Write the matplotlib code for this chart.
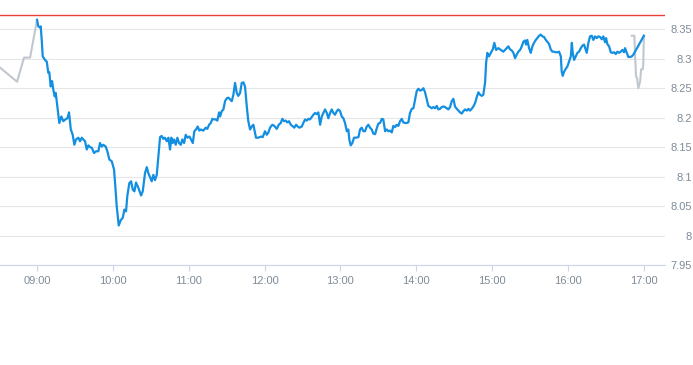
import matplotlib
matplotlib.use("Agg")
import matplotlib.pyplot as plt
from matplotlib.ticker import FixedLocator, FixedFormatter

plt.rcParams['font.family'] = ['Liberation Sans', 'DejaVu Sans']

# minutes after 09:00 and price for the regular session
t_main = [0, 1.0, 2.4, 2.9, 3.7, 4.5, 6.3, 7.7, 8.9, 9.7, 10.8, 11.9, 12.9, 14.0, 14.8, 16.1,
          17.6, 19.2, 20.8, 22.4, 24.0, 25.3, 26.7, 28.2, 29.5, 30.8, 32.7, 34.0, 35.4, 36.6,
          38.0, 39.3, 40.6, 41.9, 43.3, 45.1, 46.7, 48.5, 49.8, 51.2, 52.4, 54.3, 55.6, 57.2,
          59.1, 60.9, 61.9, 63.0, 64.6, 66.2, 67.8, 69.1, 70.4, 71.4, 73.0, 74.4, 75.7, 77.0,
          78.3, 80.1, 82.3, 83.6, 85.4, 86.8, 88.0, 89.4, 90.7, 92.0, 93.3, 94.7, 96.0, 97.3,
          98.6, 99.9, 101.2, 102.6, 103.9, 105.2, 106.2, 107.3, 108.4, 109.7, 111.0, 112.3,
          113.7, 114.9, 116.3, 117.6, 118.9, 120.5, 121.8, 123.2, 124.4, 125.8, 127.1, 128.4,
          129.7, 131.5, 133.4, 134.7, 136.1, 137.4, 138.7, 140.0, 141.4, 142.6, 144.0, 144.8,
          146.1, 147.4, 148.7, 150.1, 151.3, 152.7, 154.0, 155.3, 156.6, 158.0, 159.2, 160.6,
          161.9, 163.2, 164.5, 165.9, 167.1, 168.5, 169.8, 171.1, 173.2, 175.0, 177.2, 178.5,
          180.3, 181.7, 183.0, 184.3, 186.1, 187.7, 189.6, 191.2, 192.8, 194.0, 195.4, 196.7,
          198.0, 199.3, 200.7, 201.9, 203.5, 204.9, 206.2, 207.5, 209.4, 210.6, 212.0, 213.3,
          214.6, 215.9, 217.3, 218.6, 219.9, 221.2, 222.5, 223.9, 225.2, 226.5, 227.8, 229.2,
          230.4, 231.8, 233.1, 234.4, 235.7, 237.1, 238.3, 239.7, 241.0, 242.3, 243.6, 245.0,
          246.2, 247.0, 248.1, 249.4, 250.7, 252.3, 254.2, 255.5, 256.8, 258.1, 259.4, 260.8,
          262.1, 263.4, 264.7, 266.0, 267.4, 268.7, 270.0, 271.3, 272.7, 273.9, 275.3, 276.6,
          277.9, 279.2, 280.6, 281.8, 283.2, 284.5, 285.8, 287.1, 288.5, 289.7, 291.1, 292.4,
          293.7, 295.0, 296.4, 297.7, 299.0, 300.3, 301.6, 303.0, 304.3, 305.6, 306.9, 308.3,
          309.5, 310.9, 312.2, 313.5, 314.8, 316.2, 317.4, 318.8, 320.1, 321.4, 322.7, 324.1,
          325.3, 326.7, 328.0, 329.3, 330.6, 332.0, 333.3, 334.6, 335.9, 337.2, 338.5, 339.9,
          341.2, 342.5, 343.8, 345.1, 346.5, 347.8, 349.1, 350.4, 351.8, 353.0, 354.4, 355.2,
          356.2, 357.5, 358.9, 360.5, 361.7, 363.1, 364.9, 366.2, 367.6, 368.8, 370.2, 371.5,
          372.8, 374.1, 375.5, 376.8, 378.1, 379.4, 380.7, 382.1, 383.4, 384.7, 386.0, 386.8,
          387.8, 389.2, 390.5, 391.8, 393.1, 394.5, 395.7, 397.1, 398.4, 399.7, 401.0, 402.4,
          403.6, 405.0, 406.3, 407.6, 408.9, 410.3, 411.6, 412.9, 414.3, 415.0, 415.8, 416.9,
          418.2, 419.5, 420.8, 422.2, 423.0, 423.7, 424.8, 426.1, 427.4, 428.7, 430.1, 431.3,
          432.7, 434.0, 434.8, 436.1, 437.4, 438.8, 440.0, 441.4, 442.7, 444.0, 445.3, 446.7,
          447.9, 449.3, 450.1, 451.1, 452.5, 453.8, 455.1, 456.4, 457.8, 459.0, 460.4, 461.7,
          463.0, 464.3, 465.1, 466.5, 467.7, 469.1, 470.4, 471.7, 480]
p_main = [8.366, 8.355, 8.353, 8.355, 8.332, 8.304, 8.298, 8.295, 8.276, 8.277, 8.253, 8.262,
          8.247, 8.236, 8.242, 8.219, 8.191, 8.202, 8.194, 8.197, 8.199, 8.209, 8.180, 8.171,
          8.154, 8.163, 8.166, 8.160, 8.166, 8.163, 8.160, 8.146, 8.153, 8.150, 8.149, 8.140,
          8.143, 8.143, 8.157, 8.151, 8.154, 8.151, 8.143, 8.129, 8.126, 8.112, 8.084, 8.050,
          8.017, 8.026, 8.030, 8.044, 8.041, 8.067, 8.089, 8.092, 8.078, 8.075, 8.090, 8.081,
          8.068, 8.075, 8.106, 8.116, 8.106, 8.099, 8.092, 8.103, 8.094, 8.103, 8.134, 8.167,
          8.169, 8.164, 8.166, 8.160, 8.166, 8.146, 8.166, 8.157, 8.163, 8.154, 8.166, 8.157,
          8.154, 8.163, 8.157, 8.171, 8.166, 8.168, 8.163, 8.157, 8.177, 8.180, 8.185, 8.178,
          8.180, 8.178, 8.183, 8.181, 8.188, 8.191, 8.198, 8.197, 8.197, 8.195, 8.209, 8.202,
          8.211, 8.214, 8.228, 8.233, 8.234, 8.231, 8.228, 8.239, 8.259, 8.242, 8.237, 8.242,
          8.259, 8.260, 8.253, 8.219, 8.194, 8.180, 8.185, 8.188, 8.166, 8.166, 8.168, 8.167,
          8.177, 8.171, 8.175, 8.183, 8.188, 8.186, 8.181, 8.188, 8.191, 8.198, 8.194, 8.195,
          8.192, 8.194, 8.188, 8.186, 8.183, 8.188, 8.185, 8.183, 8.185, 8.191, 8.197, 8.195,
          8.198, 8.197, 8.201, 8.205, 8.208, 8.206, 8.209, 8.188, 8.202, 8.208, 8.214, 8.208,
          8.199, 8.208, 8.214, 8.208, 8.205, 8.211, 8.214, 8.211, 8.202, 8.199, 8.191, 8.177,
          8.180, 8.163, 8.153, 8.157, 8.166, 8.166, 8.167, 8.180, 8.183, 8.177, 8.177, 8.185,
          8.188, 8.183, 8.180, 8.173, 8.172, 8.182, 8.190, 8.191, 8.198, 8.197, 8.177, 8.180,
          8.177, 8.178, 8.175, 8.186, 8.184, 8.188, 8.186, 8.194, 8.198, 8.192, 8.191, 8.191,
          8.192, 8.208, 8.215, 8.216, 8.231, 8.245, 8.249, 8.246, 8.247, 8.250, 8.243, 8.231,
          8.220, 8.218, 8.216, 8.218, 8.216, 8.220, 8.214, 8.215, 8.218, 8.219, 8.218, 8.216,
          8.214, 8.218, 8.228, 8.232, 8.219, 8.215, 8.212, 8.209, 8.207, 8.211, 8.214, 8.212,
          8.215, 8.212, 8.215, 8.219, 8.225, 8.235, 8.243, 8.239, 8.237, 8.239, 8.260, 8.293,
          8.310, 8.304, 8.310, 8.316, 8.327, 8.315, 8.318, 8.316, 8.314, 8.312, 8.315, 8.318,
          8.321, 8.316, 8.314, 8.310, 8.301, 8.307, 8.312, 8.315, 8.321, 8.329, 8.331, 8.324,
          8.332, 8.318, 8.310, 8.321, 8.327, 8.332, 8.335, 8.339, 8.341, 8.338, 8.337, 8.332,
          8.329, 8.325, 8.316, 8.312, 8.312, 8.311, 8.311, 8.312, 8.304, 8.278, 8.271, 8.278,
          8.283, 8.287, 8.295, 8.304, 8.327, 8.310, 8.298, 8.304, 8.310, 8.312, 8.318, 8.322,
          8.324, 8.315, 8.310, 8.327, 8.338, 8.339, 8.332, 8.338, 8.335, 8.338, 8.337, 8.333,
          8.338, 8.328, 8.335, 8.325, 8.321, 8.311, 8.310, 8.311, 8.308, 8.312, 8.310, 8.312,
          8.315, 8.311, 8.318, 8.310, 8.303, 8.303, 8.304, 8.307, 8.339]

# pre-market and after-hours segments (grey)
t_pre = [-29.3, -15.8, -10.3, -5.5, 0]
p_pre = [8.285, 8.261, 8.302, 8.302, 8.366]
t_post = [470.4, 472.5, 473.0, 473.8, 474.6, 475.6, 477.0, 477.8, 479.1, 479.5, 480]
p_post = [8.339, 8.339, 8.307, 8.270, 8.267, 8.250, 8.261, 8.282, 8.282, 8.290, 8.339]

prev_close = 8.374

x_ticks = [0, 60, 120, 180, 240, 300, 360, 420, 480]
x_labels = ['09:00', '10:00', '11:00', '12:00', '13:00', '14:00', '15:00', '16:00', '17:00']
y_ticks = [7.95, 8.0, 8.05, 8.1, 8.15, 8.2, 8.25, 8.3, 8.35]
y_labels = ['7.95', '8', '8.05', '8.1', '8.15', '8.2', '8.25', '8.3', '8.35']

fig = plt.figure(figsize=(6.93, 3.65), dpi=100)
ax = fig.add_axes([0, 0.274, 0.9596, 0.726])

ax.plot(t_pre, p_pre, color='#c0c7ce', lw=1.5, solid_joinstyle='round', zorder=3)
ax.plot(t_post, p_post, color='#c0c7ce', lw=1.5, solid_joinstyle='round', zorder=3)
ax.plot(t_main, p_main, color='#138fe2', lw=1.6, solid_joinstyle='round', zorder=4)
ax.axhline(prev_close, color='#e8413c', lw=1.0, zorder=2)

ax.set_xlim(-29.3, 496.7)
ax.set_ylim(7.95, 8.3997)

ax.xaxis.set_major_locator(FixedLocator(x_ticks))
ax.xaxis.set_major_formatter(FixedFormatter(x_labels))
ax.yaxis.set_major_locator(FixedLocator(y_ticks))
ax.yaxis.set_major_formatter(FixedFormatter(y_labels))

ax.yaxis.tick_right()
ax.grid(axis='y', color='#e6e6e6', lw=0.8, zorder=1)
for s in ['top', 'left', 'right']:
    ax.spines[s].set_visible(False)
ax.spines['bottom'].set_color('#ccd6eb')
ax.spines['bottom'].set_linewidth(0.8)

ax.tick_params(axis='x', length=4, width=0.8, color='#ccd6eb', pad=4,
               labelsize=8, labelcolor='#7f8b98')
ax.tick_params(axis='y', length=0, pad=19.5, labelsize=8, labelcolor='#7f8b98')
for lbl in ax.get_yticklabels():
    lbl.set_horizontalalignment('right')

fig.savefig('out.png', dpi=100)
